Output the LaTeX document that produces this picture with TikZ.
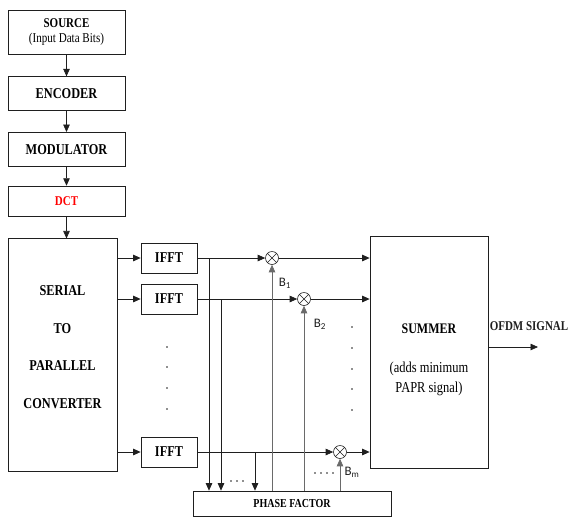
\documentclass[tikz,border=0pt]{standalone}
\usepackage{fontspec}
\setmainfont{Liberation Serif}[FakeStretch=0.82]
\newfontfamily\labfont{Carlito}
\usetikzlibrary{positioning,arrows.meta,calc}
\definecolor{ofLine}{HTML}{1F1F1F}
\definecolor{ofGray}{HTML}{6A6A6A}
\definecolor{ofRed}{HTML}{FF0000}
\definecolor{ofWhite}{HTML}{FFFFFF}
\tikzset{
  of-box/.style={
    draw=ofLine, line width=0.7pt, fill=ofWhite, align=center,
    inner sep=0pt, font=\fontsize{15}{17}\selectfont\bfseries
  },
  of-chain/.style={of-box, minimum width=117pt, minimum height=34pt},
  of-ifft/.style={of-box, minimum width=56pt, minimum height=30pt},
  of-mult/.style={circle, draw=ofLine, line width=0.6pt, fill=ofWhite,
    minimum size=13pt, inner sep=0pt,
    path picture={\draw[ofLine, line width=0.5pt]
      (path picture bounding box.north west) -- (path picture bounding box.south east)
      (path picture bounding box.north east) -- (path picture bounding box.south west);}},
  of-flow/.style={-{Triangle[length=7.5pt,width=6.5pt]}, line width=0.75pt, draw=ofLine},
  of-feed/.style={of-flow, draw=ofGray},
  of-sub/.style={font=\labfont\fontsize{13}{13}\selectfont, text=ofLine, inner sep=0pt},
  of-title/.style={font=\fontsize{13.4}{15}\selectfont\bfseries, text=ofLine, inner sep=0pt}
}
\begin{document}
\begin{tikzpicture}[x=1pt, y=-1pt]
\useasboundingbox (0,0) rectangle (569,517);

% Transmitter chain
\node[of-chain, minimum height=44pt, font=\fontsize{13.4}{15}\selectfont\bfseries]
  (source) at (66.5,32) {SOURCE\\ \normalfont\fontsize{13.5}{13}\selectfont (Input Data Bits)};
\node[of-chain, below=22pt of source] (enc) {ENCODER};
\node[of-chain, below=21pt of enc] (mod) {MODULATOR};
\node[of-chain, below=19pt of mod, minimum height=30pt,
  font=\fontsize{13.4}{15}\selectfont\bfseries, text=ofRed] (dct) {DCT};
\node[of-box, below right=22pt and 0pt of dct.south west, minimum width=109pt,
  minimum height=233pt, font=\fontsize{15}{37.5}\selectfont\bfseries]
  (s2p) {SERIAL\\ TO\\ PARALLEL\\ CONVERTER\rule[-17pt]{0pt}{1pt}};

% IFFT branches
\node[of-ifft] (ifft1) at (169,258) {IFFT};
\node[of-ifft] (ifft2) at (169,299) {IFFT};
\node[of-ifft] (ifftm) at (169,452) {IFFT};
\node[of-mult] (mul1) at (272,258) {};
\node[of-mult] (mul2) at (304,299) {};
\node[of-mult] (mulm) at (340,452) {};

\node[of-box, minimum width=118pt, minimum height=232pt,
  font=\fontsize{15.2}{20.5}\selectfont] (summer) at (429,352)
  {\rule{0pt}{26pt}\fontsize{14.6}{21}\selectfont\textbf{SUMMER}\\[18pt] (adds minimum\\ PAPR signal)};
\node[of-box, minimum width=198pt, minimum height=25pt,
  font=\fontsize{12.2}{14}\selectfont\bfseries] (phase) at (292,503.5) {PHASE FACTOR};

% Labels
\node[of-sub] (b1) at (285,283) {B\textsubscript{1}};
\node[of-sub] (b2) at (320,324) {B\textsubscript{2}};
\node[of-sub] (bm) at (352,472) {B\textsubscript{m}};
\node[of-title] (ofdmlab) at (529,326) {OFDM SIGNAL};

\coordinate (tap1) at (209,0 |- ifft1.east);
\coordinate (tap2) at (221,0 |- ifft2.east);
\coordinate (tapm) at (255,0 |- ifftm.east);
\coordinate (out) at (538,347);

\draw[of-flow] (source) -- (enc);
\draw[of-flow] (enc) -- (mod);
\draw[of-flow] (mod) -- (dct);
\draw[of-flow] (dct) -- (dct |- s2p.north);
\foreach \b in {ifft1,ifft2,ifftm}
  \draw[of-flow] (s2p.east |- \b) -- (\b.west);
\draw[of-flow] (ifft1) -- (mul1);
\draw[of-flow] (ifft2) -- (mul2);
\draw[of-flow] (ifftm) -- (mulm);
\foreach \m in {mul1,mul2,mulm}
  \draw[of-flow] (\m.east) -- (\m -| summer.west);
\foreach \t in {tap1,tap2,tapm}
  \draw[of-flow] (\t) -- (\t |- phase.north);
\foreach \m in {mul1,mul2,mulm}
  \draw[of-feed] (\m |- phase.north) -- (\m.south);
\draw[of-flow] (summer.east |- out) -- (out);

% dots
\foreach \y in {347,367,388,409}
  \fill[ofLine] (167,\y) circle (0.9pt);
\foreach \y in {327,348,369,389,410}
  \fill[ofLine] (352,\y) circle (0.9pt);
\foreach \x in {231,237,243}
  \fill[ofLine] (\x,481) circle (0.8pt);
\foreach \x in {315,321,327,333}
  \fill[ofLine] (\x,473) circle (0.8pt);
\end{tikzpicture}
\end{document}
